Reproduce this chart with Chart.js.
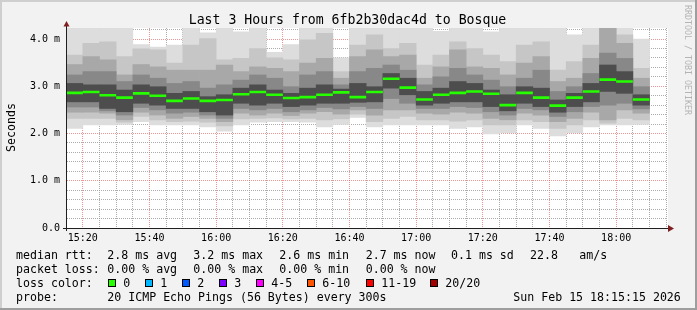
<!DOCTYPE html>
<html>
<head>
<meta charset="utf-8">
<script src="https://cdn.jsdelivr.net/npm/chart.js@4.4.1/dist/chart.umd.min.js"></script>
<style>
html, body { margin: 0; padding: 0; background: #f2f2f2; }
canvas { display: block; }
</style>
</head>
<body>
<canvas id="mycanvas" width="697" height="310"></canvas>
<script>
// one column per 5 minute step, labelled by the step's end time
var times = ['15:20','15:25','15:30','15:35','15:40','15:45','15:50','15:55',
	'16:00','16:05','16:10','16:15','16:20','16:25','16:30','16:35','16:40','16:45','16:50','16:55',
	'17:00','17:05','17:10','17:15','17:20','17:25','17:30','17:35','17:40','17:45','17:50','17:55',
	'18:00','18:05','18:10'];
var startTime = '15:15:15';
var endTime = '18:15:15';
var yMax = 4.233;

// median rtt (ms)
var median = [2.86,2.88,2.81,2.76,2.85,2.80,2.69,2.74,2.69,2.71,2.83,2.88,2.82,2.75,2.77,2.82,2.87,2.77,
	2.88,3.16,2.97,2.72,2.82,2.86,2.89,2.84,2.60,2.86,2.76,2.59,2.76,2.89,3.14,3.10,2.72];

// smoke: ping spread, outer (light) to inner (dark) bands, upper edges
var high0 = [4.4,4.4,4.4,4.4,3.88,3.83,3.87,4.4,4.13,4.4,4.15,4.4,3.72,3.88,4.4,4.4,3.60,4.4,
	4.4,4.4,4.4,4.4,4.16,4.4,4.4,4.15,4.4,4.4,4.4,4.4,4.09,4.4,5.4,4.4,4.0];
var high1 = [3.66,3.91,3.94,3.63,3.79,3.77,3.49,3.87,4.01,3.56,3.59,3.80,3.60,3.56,3.98,4.12,3.31,3.87,
	4.09,3.80,3.91,3.45,3.66,3.94,3.80,3.66,3.52,3.87,3.94,3.34,3.52,3.87,4.9,4.09,3.38];
var high2 = [3.46,3.63,3.56,3.24,3.46,3.41,3.34,3.34,3.34,3.45,3.31,3.41,3.38,3.31,3.49,3.59,3.17,3.63,
	3.77,3.63,3.66,3.17,3.41,3.77,3.41,3.38,3.24,3.49,3.63,3.10,3.17,3.59,4.5,3.91,3.17];
var high3 = [3.24,3.31,3.31,3.10,3.24,3.17,3.06,3.10,2.96,3.03,3.13,3.24,3.17,2.99,3.24,3.31,3.03,3.31,
	3.38,3.45,3.34,3.03,3.20,3.38,3.24,3.13,2.99,3.17,3.34,2.89,2.99,3.27,3.70,3.59,2.99];
var high4 = [3.06,3.03,3.03,2.92,3.03,2.99,2.85,2.89,2.78,2.82,2.96,3.03,2.92,2.85,2.96,3.03,2.94,3.06,
	2.99,3.27,3.17,2.89,2.96,3.10,3.06,2.92,2.82,2.99,2.96,2.71,2.85,3.06,3.45,3.31,2.82];
// lower edges
var low0 = [2.11,2.18,2.18,2.19,2.25,2.18,2.18,2.18,2.14,2.05,2.18,2.24,2.25,2.25,2.24,2.14,2.19,2.34,
	2.14,2.18,2.18,2.18,2.18,2.11,2.14,1.99,2.02,2.18,2.11,1.95,2.02,2.14,2.18,2.18,2.19];
var low1 = [2.32,2.32,2.32,2.24,2.36,2.29,2.25,2.26,2.24,2.16,2.31,2.32,2.33,2.31,2.32,2.29,2.31,2.41,
	2.25,2.32,2.36,2.29,2.29,2.26,2.29,2.18,2.18,2.29,2.25,2.11,2.18,2.29,2.22,2.32,2.29];
var low2 = [2.45,2.45,2.43,2.29,2.45,2.39,2.32,2.36,2.32,2.25,2.43,2.39,2.43,2.38,2.43,2.46,2.41,2.50,
	2.39,2.50,2.50,2.43,2.41,2.45,2.43,2.32,2.29,2.43,2.39,2.25,2.32,2.45,2.29,2.50,2.43];
var low3 = [2.56,2.56,2.48,2.39,2.55,2.50,2.43,2.45,2.39,2.32,2.53,2.50,2.53,2.46,2.50,2.55,2.52,2.57,
	2.53,2.74,2.64,2.53,2.53,2.57,2.55,2.46,2.39,2.53,2.50,2.36,2.46,2.57,2.60,2.64,2.52];
var low4 = [2.67,2.67,2.53,2.46,2.64,2.60,2.53,2.53,2.46,2.39,2.64,2.60,2.64,2.57,2.60,2.64,2.64,2.66,
	2.67,2.96,2.82,2.60,2.64,2.67,2.67,2.57,2.48,2.64,2.57,2.45,2.57,2.67,2.89,2.85,2.60];

var title = 'Last 3 Hours from 6fb2b30dac4d to Bosque';
var yTitle = 'Seconds';
var medianStats = ['2.8 ms avg','3.2 ms max','2.6 ms min','2.7 ms now','0.1 ms sd','22.8','am/s'];
var lossStats = ['0.00 % avg','0.00 % max','0.00 % min','0.00 % now'];
var lossLabels = ['0','1','2','3','4-5','6-10','11-19','20/20'];
var lossColors = ['#26ff00','#00b8ff','#0059ff','#7e00ff','#ff00ff','#ff5500','#ff0000','#a10000'];
var probeText = '20 ICMP Echo Pings (56 Bytes) every 300s';
var stampText = 'Sun Feb 15 18:15:15 2026';

var MONO = '"DejaVu Sans Mono", monospace';
var GRID = 'rgba(143,143,143,0.75)';
var MGRID = 'rgba(222,79,79,0.6)';

function toMin(s) {
	var p = s.split(':');
	return (+p[0]) * 60 + (+p[1]) + (p[2] ? (+p[2]) / 60 : 0);
}
function fmtMin(v) {
	var h = Math.floor(v / 60), m = Math.round(v - h * 60);
	return h + ':' + (m < 10 ? '0' : '') + m;
}

var highs = [high0, high1, high2, high3, high4];
var lows = [low0, low1, low2, low3, low4];
var bandColors = ['#dddddd', '#c6c6c6', '#a8a8a8', '#888888', '#4d4d4d'];

var datasets = [];
var medianPts = [];
for (var i = 0; i < times.length; i++) {
	var t = toMin(times[i]);
	medianPts.push({x: t - 5, y: median[i]});
	medianPts.push({x: t, y: median[i]});
	medianPts.push({x: t, y: null});
}
datasets.push({
	type: 'line',
	label: 'median',
	data: medianPts,
	borderColor: lossColors[0],
	borderWidth: 2.6,
	borderCapStyle: 'butt',
	pointRadius: 0,
	spanGaps: false,
	tension: 0,
	clip: 0,
	order: 0
});
for (var b = 4; b >= 0; b--) {
	var pts = [];
	for (var j = 0; j < times.length; j++) {
		pts.push({x: toMin(times[j]) - 2.5, y: [lows[b][j], highs[b][j]]});
	}
	datasets.push({
		type: 'bar',
		label: 'smoke' + b,
		data: pts,
		backgroundColor: bandColors[b],
		borderWidth: 0,
		barPercentage: 1,
		categoryPercentage: 1,
		grouped: false,
		clip: 0,
		order: 5 - b
	});
}

var smokeFrame = {
	id: 'smokeFrame',
	beforeDraw: function(chart) {
		var ctx = chart.ctx, a = chart.chartArea, w = chart.width, h = chart.height;
		ctx.save();
		ctx.fillStyle = '#f2f2f2';
		ctx.fillRect(0, 0, w, h);
		ctx.fillStyle = '#cfcfcf';
		ctx.fillRect(0, 0, w, 2);
		ctx.fillRect(0, 0, 2, h);
		ctx.fillStyle = '#9e9e9e';
		ctx.fillRect(0, h - 2, w, 2);
		ctx.fillRect(w - 2, 0, 2, h);
		ctx.fillStyle = '#ffffff';
		ctx.fillRect(a.left, a.top, a.right - a.left + 1, a.bottom - a.top);
		ctx.restore();
	},
	afterDraw: function(chart) {
		var ctx = chart.ctx, a = chart.chartArea;
		ctx.save();
		// axes with arrows
		ctx.strokeStyle = '#1f1f1f';
		ctx.lineWidth = 1;
		ctx.beginPath();
		ctx.moveTo(63, a.bottom + 0.5);
		ctx.lineTo(a.right + 3, a.bottom + 0.5);
		ctx.moveTo(a.left - 0.5, a.bottom + 3);
		ctx.lineTo(a.left - 0.5, a.top - 3);
		ctx.stroke();
		ctx.fillStyle = '#801f1f';
		ctx.beginPath();
		ctx.moveTo(a.right + 1, a.bottom - 3);
		ctx.lineTo(a.right + 7, a.bottom + 0.5);
		ctx.lineTo(a.right + 1, a.bottom + 4);
		ctx.closePath();
		ctx.fill();
		ctx.beginPath();
		ctx.moveTo(a.left - 3.5, a.top - 1.5);
		ctx.lineTo(a.left - 0.5, a.top - 7);
		ctx.lineTo(a.left + 2.5, a.top - 1.5);
		ctx.closePath();
		ctx.fill();

		ctx.fillStyle = '#000000';
		ctx.textBaseline = 'alphabetic';
		// title
		ctx.font = '13.2px ' + MONO;
		ctx.textAlign = 'center';
		ctx.fillText(title, 347.5, 24);
		// y axis title
		ctx.save();
		ctx.translate(14.5, 127.5);
		ctx.rotate(-Math.PI / 2);
		ctx.font = '11.6px ' + MONO;
		ctx.fillText(yTitle, 0, 0);
		ctx.restore();
		// watermark
		ctx.save();
		ctx.translate(687.5, 60);
		ctx.rotate(Math.PI / 2);
		ctx.font = '8.3px ' + MONO;
		ctx.fillStyle = '#b4b4b4';
		ctx.textBaseline = 'middle';
		ctx.fillText('RRDTOOL / TOBI OETIKER', 0, 0);
		ctx.restore();

		// legend
		ctx.font = '11.6px ' + MONO;
		ctx.textAlign = 'left';
		var cols = [107.3, 193.3, 279.3, 365.7, 451, 530, 579.3];
		ctx.fillText('median rtt:', 16, 258.5);
		medianStats.forEach(function(s, k) { ctx.fillText(s, cols[k], 258.5); });
		ctx.fillText('packet loss:', 16, 272.5);
		lossStats.forEach(function(s, k) { ctx.fillText(s, cols[k], 272.5); });
		ctx.fillText('loss color:', 16, 286.5);
		var sw = [108, 145, 182, 219, 256, 307, 366, 430];
		lossLabels.forEach(function(s, k) {
			ctx.fillStyle = lossColors[k];
			ctx.fillRect(sw[k], 279, 8, 8);
			ctx.strokeStyle = '#000000';
			ctx.strokeRect(sw[k] + 0.5, 279.5, 7, 7);
			ctx.fillStyle = '#000000';
			ctx.fillText(s, sw[k] + 15.3, 286.5);
		});
		ctx.fillText('probe:', 16, 300.5);
		ctx.fillText(probeText, 107.3, 300.5);
		ctx.fillText(stampText, 513.3, 300.5);
		ctx.restore();
	}
};

var ctx = document.getElementById('mycanvas');
var SmokeGraph = new Chart(ctx, {
	type: 'bar',
	data: { datasets: datasets },
	plugins: [smokeFrame],
	options: {
		responsive: false,
		animation: false,
		events: [],
		layout: { padding: { left: 0, right: 30, top: 28, bottom: 0 } },
		plugins: { legend: { display: false }, tooltip: { enabled: false } },
		scales: {
			x: {
				type: 'linear',
				min: toMin(startTime),
				max: toMin(endTime),
				offset: false,
				z: 1,
				afterFit: function(scale) { scale.height = 82; },
				afterBuildTicks: function(scale) {
					var ticks = [];
					for (var v = toMin(times[0]); v <= toMin(endTime); v += 5) ticks.push({value: v});
					scale.ticks = ticks;
				},
				grid: {
					offset: false,
					drawTicks: false,
					color: function(c) { return (c.tick && Math.round(c.tick.value) % 20 === 0) ? MGRID : GRID; }
				},
				border: { display: false, dash: [1, 1] },
				ticks: {
					autoSkip: false,
					maxRotation: 0,
					minRotation: 0,
					padding: 4,
					color: '#000000',
					font: { family: 'DejaVu Sans Mono', size: 10 },
					callback: function(v) { return Math.round(v) % 20 === 0 ? fmtMin(v) : ''; }
				}
			},
			y: {
				type: 'linear',
				min: 0,
				max: yMax,
				z: 1,
				afterFit: function(scale) { scale.width = 67; },
				afterBuildTicks: function(scale) {
					var ticks = [];
					for (var k = 0; k * 0.2 <= yMax; k++) ticks.push({value: Math.round(k * 2) / 10});
					scale.ticks = ticks;
				},
				grid: {
					drawTicks: false,
					color: function(c) { return (c.tick && Math.abs(c.tick.value - Math.round(c.tick.value)) < 1e-6) ? MGRID : GRID; }
				},
				border: { display: false, dash: [1, 1] },
				ticks: {
					autoSkip: false,
					padding: 7,
					color: '#000000',
					font: { family: 'DejaVu Sans Mono', size: 10 },
					callback: function(v) {
						if (Math.abs(v - Math.round(v)) > 1e-6) return '';
						return v === 0 ? '0.0' : v.toFixed(1) + ' m';
					}
				}
			}
		}
	}
});
</script>
</body>
</html>
